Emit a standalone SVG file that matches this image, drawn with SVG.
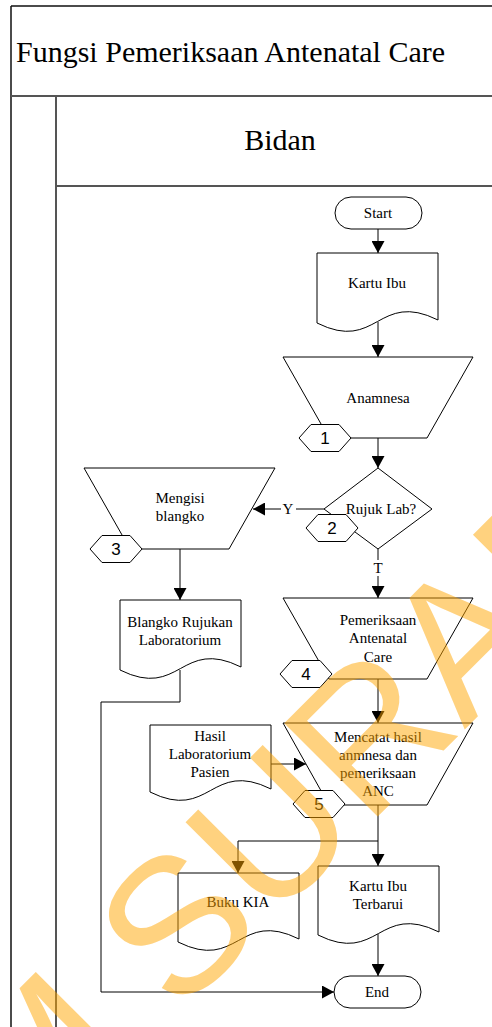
<svg xmlns="http://www.w3.org/2000/svg" width="492" height="1027" viewBox="0 0 492 1027">
  <style>
    .frame { fill: none; stroke: #111; stroke-width: 1.5; }
    .sep { fill: none; stroke: #555; stroke-width: 2; }
    .shape { fill: #fff; stroke: #000; stroke-width: 1; }
    .conn { fill: none; stroke: #000; stroke-width: 1; }
    .arrow { marker-end: url(#head); }
    .lbl { font-family: "Liberation Serif", "Times New Roman", serif; font-size: 15px; fill: #000; text-anchor: middle; }
    .num { font-family: "Liberation Sans", Arial, sans-serif; font-size: 17px; fill: #000; text-anchor: middle; }
    .big { font-family: "Liberation Serif", "Times New Roman", serif; font-size: 30px; fill: #000; }
    .mark { font-family: "Liberation Sans", Arial, sans-serif; font-size: 192px; fill: #FFA500; fill-opacity: 0.5; }
  </style>
  <defs>
    <marker id="head" markerUnits="userSpaceOnUse" viewBox="0 0 12 13" refX="12" refY="6.5" markerWidth="12" markerHeight="13" orient="auto">
      <path d="M0,0 L12,6.5 L0,13 Z" fill="#000"/>
    </marker>
  </defs>

  <rect width="492" height="1027" fill="#fff"/>

  <!-- pool and lane frame -->
  <g id="pool">
    <path class="frame" d="M11,6 H492 M11,6 V1027"/>
    <path class="sep" d="M11,96 H492 M56,96 V1027 M56,186 H492"/>
    <text class="big" x="16" y="62">Fungsi Pemeriksaan Antenatal Care</text>
    <text class="big" x="280" y="150" text-anchor="middle">Bidan</text>
  </g>

  <!-- connectors -->
  <g id="connectors">
    <path class="conn arrow" d="M378,229 V253"/>
    <path class="conn arrow" d="M378,322 V357"/>
    <path class="conn arrow" d="M378,438 V468"/>
    <path class="conn" d="M324,509 H296"/>
    <path class="conn arrow" d="M281,509 H253"/>
    <text class="lbl" x="288" y="514">Y</text>
    <path class="conn" d="M378,549 V560"/>
    <path class="conn arrow" d="M378,576 V598"/>
    <text class="lbl" x="378" y="573">T</text>
    <path class="conn arrow" d="M180,549 V600"/>
    <path class="conn arrow" d="M180,670 V702 H101 V992 H334"/>
    <path class="conn arrow" d="M378,679 V723"/>
    <path class="conn arrow" d="M271,764 H306"/>
    <path class="conn arrow" d="M378,805 V841 H238 V873"/>
    <path class="conn arrow" d="M378,841 V866"/>
    <path class="conn arrow" d="M378,934 V976"/>
  </g>

  <g id="start">
    <rect class="shape" x="335" y="197" width="87" height="32" rx="16"/>
    <text class="lbl" x="378" y="218">Start</text>
  </g>

  <g id="kartu-ibu">
    <path class="shape" d="M317,253 H438 V320 C377.5,290 377.5,353 317,323 Z"/>
    <text class="lbl" x="377" y="288">Kartu Ibu</text>
  </g>

  <g id="anamnesa">
    <path class="shape" d="M283,357 H473 L427,438 H329 Z"/>
    <text class="lbl" x="378" y="403">Anamnesa</text>
  </g>
  <g id="ref-1">
    <polygon class="shape" points="299,438 311,424.5 339,424.5 351,438 339,451.5 311,451.5"/>
    <text class="num" x="325" y="444">1</text>
  </g>

  <g id="rujuk-lab">
    <path class="shape" d="M378,468 L432,509 L378,549 L324,509 Z"/>
    <text class="lbl" x="381" y="514">Rujuk Lab?</text>
  </g>
  <g id="ref-2">
    <polygon class="shape" points="306,528 318,514.5 346,514.5 358,528 346,541.5 318,541.5"/>
    <text class="num" x="332" y="534">2</text>
  </g>

  <g id="mengisi-blangko">
    <path class="shape" d="M84,468 H275 L229,549 H130 Z"/>
    <text class="lbl" x="180" y="503">Mengisi</text>
    <text class="lbl" x="180" y="521">blangko</text>
  </g>
  <g id="ref-3">
    <polygon class="shape" points="90,549 102,535.5 130,535.5 142,549 130,562.5 102,562.5"/>
    <text class="num" x="116" y="555">3</text>
  </g>

  <g id="blangko-rujukan">
    <path class="shape" d="M120,600 H241 V667 C180.5,637 180.5,700 120,670 Z"/>
    <text class="lbl" x="180" y="627">Blangko Rujukan</text>
    <text class="lbl" x="180" y="645">Laboratorium</text>
  </g>

  <g id="pemeriksaan-anc">
    <path class="shape" d="M283,598 H473 L427,679 H329 Z"/>
    <text class="lbl" x="378" y="625">Pemeriksaan</text>
    <text class="lbl" x="378" y="643">Antenatal</text>
    <text class="lbl" x="378" y="662">Care</text>
  </g>
  <g id="ref-4">
    <polygon class="shape" points="280,674 292,660.5 320,660.5 332,674 320,687.5 292,687.5"/>
    <text class="num" x="306" y="680">4</text>
  </g>

  <g id="hasil-lab">
    <path class="shape" d="M150,725 H271 V789 C210.5,759 210.5,822 150,792 Z"/>
    <text class="lbl" x="210" y="741">Hasil</text>
    <text class="lbl" x="210" y="759">Laboratorium</text>
    <text class="lbl" x="210" y="777">Pasien</text>
  </g>

  <g id="mencatat">
    <path class="shape" d="M283,723 H473 L427,805 H329 Z"/>
    <text class="lbl" x="378" y="742">Mencatat hasil</text>
    <text class="lbl" x="378" y="760">anmnesa dan</text>
    <text class="lbl" x="378" y="778">pemeriksaan</text>
    <text class="lbl" x="378" y="796">ANC</text>
  </g>
  <g id="ref-5">
    <polygon class="shape" points="293,804 305,790.5 333,790.5 345,804 333,817.5 305,817.5"/>
    <text class="num" x="319" y="810">5</text>
  </g>

  <g id="buku-kia">
    <path class="shape" d="M178,873 H299 V939 C238.5,909 238.5,972 178,942 Z"/>
    <text class="lbl" x="238" y="907">Buku KIA</text>
  </g>

  <g id="kartu-ibu-terbarui">
    <path class="shape" d="M318,866 H439 V932 C378.5,902 378.5,965 318,935 Z"/>
    <text class="lbl" x="378" y="891">Kartu Ibu</text>
    <text class="lbl" x="378" y="909">Terbarui</text>
  </g>

  <g id="end">
    <rect class="shape" x="334" y="976" width="87" height="32" rx="16"/>
    <text class="lbl" x="377" y="997">End</text>
  </g>

  <!-- diagonal watermark laid over the page -->
  <g id="watermark">
    <text class="mark" x="-576.2" y="0" transform="translate(27.2 1167.2) rotate(-45)">STIKOM SURABAYA</text>
  </g>
</svg>
